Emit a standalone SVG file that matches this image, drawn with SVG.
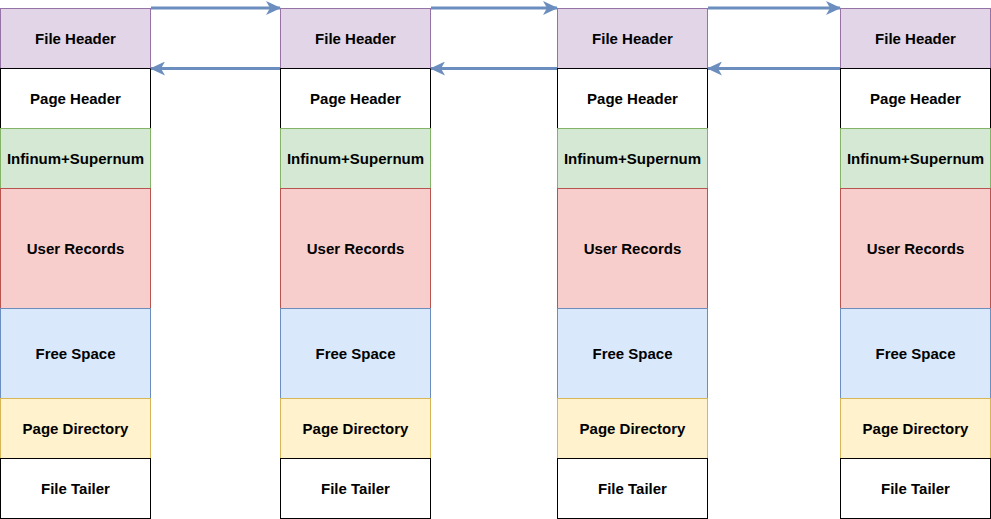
<svg xmlns="http://www.w3.org/2000/svg" width="991" height="519" viewBox="0 0 991 519">
<defs>
<marker id="ah" viewBox="0 0 15 14" refX="14" refY="7" markerWidth="15" markerHeight="14" markerUnits="userSpaceOnUse" orient="auto">
<path d="M0,0 L15,7 L0,14 L4,7 Z" fill="#6c8ebf"/>
</marker>
</defs>
<style>
text{font-family:"Liberation Sans",Arial,sans-serif;font-weight:bold;font-size:15px;fill:#000;text-anchor:middle;dominant-baseline:central}
.fh{fill:#e1d5e7;stroke:#9673a6}
.ph{fill:#fff;stroke:#000}
.is{fill:#d5e8d4;stroke:#82b366}
.ur{fill:#f8cecc;stroke:#b85450}
.fs{fill:#dae8fc;stroke:#6c8ebf}
.pd{fill:#fff2cc;stroke:#d6b656}
.ft{fill:#fff;stroke:#000}
.c{stroke:#6c8ebf;stroke-width:3;fill:none;marker-end:url(#ah)}
</style>
<rect width="991" height="519" fill="#fff"/>
<g id="page1" transform="translate(0.5,0)">
<rect class="fh" x="0" y="8.5" width="150" height="60"/><text x="75" y="38.5">File Header</text>
<rect class="ph" x="0" y="68.5" width="150" height="60"/><text x="75" y="98.5">Page Header</text>
<rect class="is" x="0" y="128.5" width="150" height="60"/><text x="75" y="158.5">Infinum+Supernum</text>
<rect class="ur" x="0" y="188.5" width="150" height="120"/><text x="75" y="248.5">User Records</text>
<rect class="fs" x="0" y="308.5" width="150" height="90"/><text x="75" y="353.5">Free Space</text>
<rect class="pd" x="0" y="398.5" width="150" height="60"/><text x="75" y="428.5">Page Directory</text>
<rect class="ft" x="0" y="458.5" width="150" height="60"/><text x="75" y="488.5">File Tailer</text>
</g>
<g id="page2" transform="translate(280.5,0)">
<rect class="fh" x="0" y="8.5" width="150" height="60"/><text x="75" y="38.5">File Header</text>
<rect class="ph" x="0" y="68.5" width="150" height="60"/><text x="75" y="98.5">Page Header</text>
<rect class="is" x="0" y="128.5" width="150" height="60"/><text x="75" y="158.5">Infinum+Supernum</text>
<rect class="ur" x="0" y="188.5" width="150" height="120"/><text x="75" y="248.5">User Records</text>
<rect class="fs" x="0" y="308.5" width="150" height="90"/><text x="75" y="353.5">Free Space</text>
<rect class="pd" x="0" y="398.5" width="150" height="60"/><text x="75" y="428.5">Page Directory</text>
<rect class="ft" x="0" y="458.5" width="150" height="60"/><text x="75" y="488.5">File Tailer</text>
</g>
<g id="page3" transform="translate(557.5,0)">
<rect class="fh" x="0" y="8.5" width="150" height="60"/><text x="75" y="38.5">File Header</text>
<rect class="ph" x="0" y="68.5" width="150" height="60"/><text x="75" y="98.5">Page Header</text>
<rect class="is" x="0" y="128.5" width="150" height="60"/><text x="75" y="158.5">Infinum+Supernum</text>
<rect class="ur" x="0" y="188.5" width="150" height="120"/><text x="75" y="248.5">User Records</text>
<rect class="fs" x="0" y="308.5" width="150" height="90"/><text x="75" y="353.5">Free Space</text>
<rect class="pd" x="0" y="398.5" width="150" height="60"/><text x="75" y="428.5">Page Directory</text>
<rect class="ft" x="0" y="458.5" width="150" height="60"/><text x="75" y="488.5">File Tailer</text>
</g>
<g id="page4" transform="translate(840.5,0)">
<rect class="fh" x="0" y="8.5" width="150" height="60"/><text x="75" y="38.5">File Header</text>
<rect class="ph" x="0" y="68.5" width="150" height="60"/><text x="75" y="98.5">Page Header</text>
<rect class="is" x="0" y="128.5" width="150" height="60"/><text x="75" y="158.5">Infinum+Supernum</text>
<rect class="ur" x="0" y="188.5" width="150" height="120"/><text x="75" y="248.5">User Records</text>
<rect class="fs" x="0" y="308.5" width="150" height="90"/><text x="75" y="353.5">Free Space</text>
<rect class="pd" x="0" y="398.5" width="150" height="60"/><text x="75" y="428.5">Page Directory</text>
<rect class="ft" x="0" y="458.5" width="150" height="60"/><text x="75" y="488.5">File Tailer</text>
</g>
<g id="connectors">
<line class="c" x1="151" y1="8" x2="280" y2="8"/>
<line class="c" x1="431" y1="8" x2="557" y2="8"/>
<line class="c" x1="708" y1="8" x2="840" y2="8"/>
<line class="c" x1="280" y1="68.5" x2="151" y2="68.5"/>
<line class="c" x1="557" y1="68.5" x2="431" y2="68.5"/>
<line class="c" x1="840" y1="68.5" x2="708" y2="68.5"/>
</g>
</svg>
